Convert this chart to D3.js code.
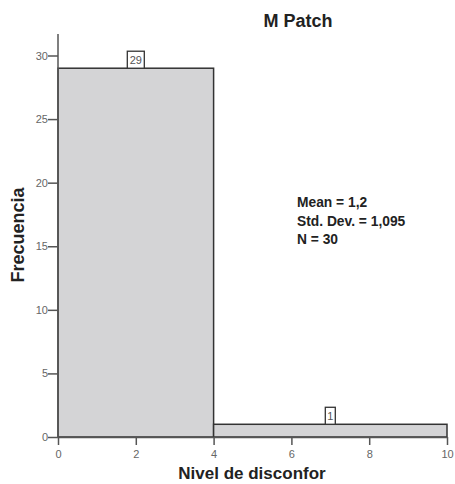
<!DOCTYPE html>
<html>
<head>
<meta charset="utf-8">
<script src="https://cdn.jsdelivr.net/npm/d3@7"></script>
<style>
  body { margin: 0; background: #fff; }
  text { font-family: 'Liberation Sans', Arial, sans-serif; }
</style>
</head>
<body>
<div id="viz"></div>
<script>
const width = 455;
const height = 484;
const margin = {top: 34, right: 8, bottom: 47, left: 58};

// Histogram bins (edges) and counts
const binEdges = [[0, 4], [4, 10]];
const binCounts = [29, 1];
const xTicks = [0, 2, 4, 6, 8, 10];
const yTicks = [0, 5, 10, 15, 20, 25, 30];
const statsLines = ['Mean = 1,2', 'Std. Dev. = 1,095', 'N = 30'];

const bins = binEdges.map((e, i) => ({x0: e[0], x1: e[1], count: binCounts[i]}));

const svg = d3.select('#viz')
  .append('svg')
    .attr('width', width)
    .attr('height', height);

const xScale = d3.scaleLinear()
  .domain([0, 10])
  .range([58, 447]);
const yScale = d3.scaleLinear()
  .domain([0, 30])
  .range([437, 55.5]);

// Title
svg.append('text')
  .attr('x', 298)
  .attr('y', 27)
  .attr('text-anchor', 'middle')
  .style('font-size', '18px')
  .style('font-weight', 'bold')
  .attr('fill', '#222')
  .text('M Patch');

// Bars
svg.append('g')
  .selectAll('rect')
  .data(bins)
  .join('rect')
    .attr('x', d => xScale(d.x0))
    .attr('y', d => yScale(d.count))
    .attr('width', d => xScale(d.x1) - xScale(d.x0))
    .attr('height', d => yScale(0) - yScale(d.count))
    .attr('fill', '#d4d4d6')
    .attr('stroke', '#333')
    .attr('stroke-width', 1.5);

// Count labels in little boxes
const labels = svg.append('g')
  .selectAll('g')
  .data(bins)
  .join('g')
    .attr('transform', d => `translate(${xScale((d.x0 + d.x1) / 2)}, ${yScale(d.count)})`);
labels.append('rect')
  .attr('x', d => String(d.count).length > 1 ? -8.5 : -5)
  .attr('y', -17)
  .attr('width', d => String(d.count).length > 1 ? 17 : 10)
  .attr('height', 17)
  .attr('fill', '#fff')
  .attr('stroke', '#333')
  .attr('stroke-width', 1.3);
labels.append('text')
  .attr('y', -4.5)
  .attr('text-anchor', 'middle')
  .style('font-size', '11px')
  .attr('fill', '#555')
  .text(d => d.count);

// Y axis
const yAxisGroup = svg.append('g')
  .attr('transform', `translate(${xScale(0)},0)`)
  .call(d3.axisLeft(yScale).tickValues(yTicks).tickSize(10).tickFormat(d3.format('d')));
yAxisGroup.select('.domain').remove();
yAxisGroup.append('line')
  .attr('x1', 0).attr('x2', 0)
  .attr('y1', margin.top)
  .attr('y2', yScale(0))
  .attr('stroke', '#555')
  .attr('stroke-width', 1.5);
yAxisGroup.selectAll('.tick line').attr('stroke', '#555').attr('stroke-width', 1.5);
yAxisGroup.selectAll('.tick text')
  .attr('x', -10)
  .attr('fill', '#666')
  .style('font-size', '11px')
  .style('font-family', "'Liberation Sans', Arial, sans-serif");

// X axis
const xAxisGroup = svg.append('g')
  .attr('transform', `translate(0,${yScale(0)})`)
  .call(d3.axisBottom(xScale).tickValues(xTicks).tickSize(8).tickSizeOuter(0));
xAxisGroup.select('.domain').attr('stroke', '#555').attr('stroke-width', 1.5);
xAxisGroup.selectAll('.tick line').attr('stroke', '#555').attr('stroke-width', 1.5);
xAxisGroup.selectAll('.tick text')
  .attr('y', 13)
  .attr('fill', '#666')
  .style('font-size', '11px')
  .style('font-family', "'Liberation Sans', Arial, sans-serif");

// Axis titles
svg.append('text')
  .attr('x', 252)
  .attr('y', 479)
  .attr('text-anchor', 'middle')
  .style('font-size', '17px')
  .style('font-weight', 'bold')
  .attr('fill', '#222')
  .text('Nivel de disconfor');
svg.append('text')
  .attr('transform', `translate(24, 235) rotate(-90)`)
  .attr('text-anchor', 'middle')
  .style('font-size', '18px')
  .style('font-weight', 'bold')
  .attr('fill', '#222')
  .text('Frecuencia');

// Stats block
svg.append('g')
  .selectAll('text')
  .data(statsLines)
  .join('text')
    .attr('x', 297)
    .attr('y', (d, i) => 207 + i * 18.5)
    .style('font-size', '13.8px')
    .style('font-weight', 'bold')
    .attr('fill', '#222')
    .text(d => d);
</script>
</body>
</html>
